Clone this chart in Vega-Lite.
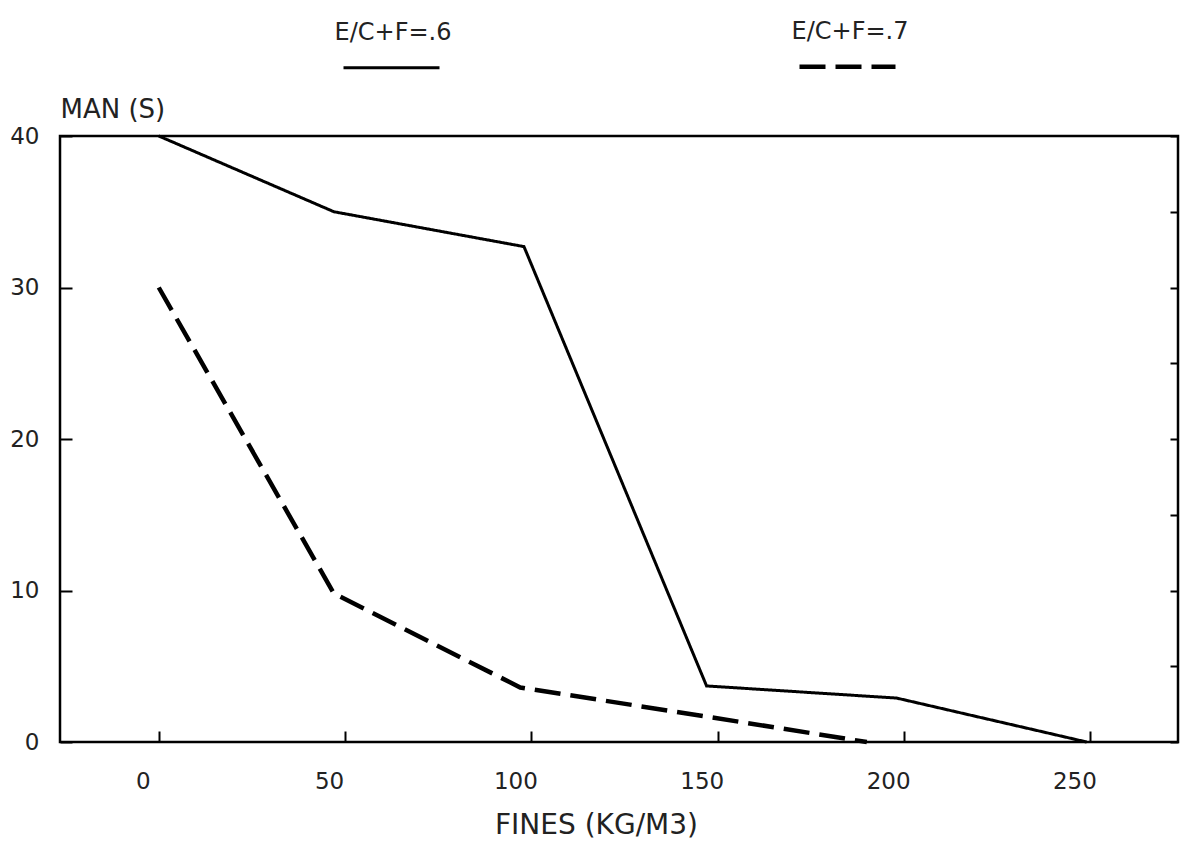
{
  "$schema": "https://vega.github.io/schema/vega-lite/v6.json",
  "width": 1118,
  "height": 606,
  "autosize": "none",
  "padding": {"left": 60, "top": 136, "right": 19, "bottom": 112},
  "background": "white",
  "config": {
    "font": "DejaVu Sans",
    "view": {"stroke": "black", "strokeWidth": 2.5},
    "axis": {"grid": false, "domain": false, "tickColor": "black", "tickWidth": 2, "labelColor": "#222", "titleColor": "#222", "titleFontWeight": "normal"}
  },
  "data": {
    "values": [
      {"series": "E/C+F=.6", "fines": 0, "man": 40},
      {"series": "E/C+F=.6", "fines": 47, "man": 35},
      {"series": "E/C+F=.6", "fines": 98, "man": 32.7},
      {"series": "E/C+F=.6", "fines": 147, "man": 3.7},
      {"series": "E/C+F=.6", "fines": 198, "man": 2.9},
      {"series": "E/C+F=.6", "fines": 249, "man": 0},
      {"series": "E/C+F=.7", "fines": 0, "man": 30},
      {"series": "E/C+F=.7", "fines": 47, "man": 9.8},
      {"series": "E/C+F=.7", "fines": 97, "man": 3.6},
      {"series": "E/C+F=.7", "fines": 149, "man": 1.6},
      {"series": "E/C+F=.7", "fines": 190, "man": 0}
    ]
  },
  "layer": [
    {
      "mark": {"type": "line", "color": "black", "strokeCap": "butt"},
      "encoding": {
        "x": {
          "field": "fines", "type": "quantitative",
          "scale": {"domain": [-26.5, 273.5], "nice": false, "zero": false},
          "axis": {
            "title": "FINES (KG/M3)", "values": [0, 50, 100, 150, 200, 250],
            "tickSize": -11, "labelPadding": 39, "labelOffset": -16,
            "labelFontSize": 23, "titleFontSize": 28,
            "titleX": 536, "titleY": 91, "titleBaseline": "alphabetic", "titleAlign": "center"
          }
        },
        "y": {
          "field": "man", "type": "quantitative",
          "scale": {"domain": [0, 40], "nice": false},
          "axis": {
            "title": "MAN (S)", "values": [0, 10, 20, 30, 40],
            "tickSize": -12, "labelPadding": 33, "labelFontSize": 23,
            "titleFontSize": 26, "titleAngle": 0, "titleAlign": "left", "titleBaseline": "alphabetic",
            "titleX": 0, "titleY": -19
          }
        },
        "strokeDash": {
          "field": "series", "type": "nominal",
          "scale": {"domain": ["E/C+F=.6", "E/C+F=.7"], "range": [[1, 0], [26, 10]]},
          "legend": {
            "title": null, "orient": "none", "direction": "horizontal",
            "legendX": 282, "legendY": -120, "padding": 0,
            "symbolType": "stroke", "symbolSize": 9216, "symbolStrokeWidth": 3.5, "symbolStrokeColor": "black",
            "labelFontSize": 24, "labelColor": "#222", "labelAlign": "center", "labelBaseline": "alphabetic",
            "labelOffset": -48, "columnPadding": 338,
            "encode": {"labels": {"update": {"dy": {"value": -28}}}}
          }
        },
        "strokeWidth": {
          "field": "series", "type": "nominal",
          "scale": {"domain": ["E/C+F=.6", "E/C+F=.7"], "range": [3, 4.5]},
          "legend": null
        }
      }
    },
    {
      "mark": {"type": "point", "opacity": 0},
      "encoding": {
        "y": {
          "field": "man", "type": "quantitative",
          "axis": {"orient": "right", "title": null, "labels": false, "values": [0, 5, 10, 15, 20, 25, 30, 35, 40], "tickSize": -8}
        }
      }
    }
  ],
  "resolve": {"axis": {"y": "independent"}}
}
